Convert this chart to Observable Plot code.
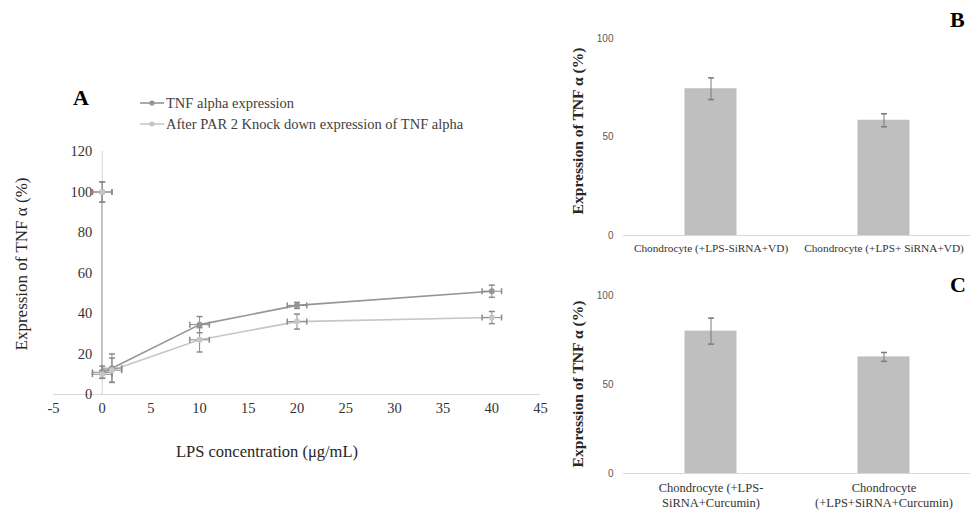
<!DOCTYPE html>
<html>
<head>
<meta charset="utf-8">
<script src="https://cdn.jsdelivr.net/npm/d3@7"></script>
<script src="https://cdn.jsdelivr.net/npm/@observablehq/plot@0.6"></script>
<style>
  html, body { margin: 0; padding: 0; background: #fff; }
  #root { position: relative; width: 979px; height: 515px; overflow: hidden; font-family: "Liberation Serif", serif; color: #262626; }
  .abs { position: absolute; white-space: nowrap; line-height: 1; }
  .rot { transform: translate(-50%, -50%) rotate(-90deg); }
  .letter { font-weight: bold; font-size: 22px; color: #000; }
  .leg { font-size: 14.5px; color: #404040; display: flex; align-items: center; }
  .leg svg { margin-right: 2px; }
</style>
</head>
<body>
<div id="root"></div>
<script>
// ---------- Panel A data ----------
const concentrations = [0, 0, 1, 10, 20, 40];
const concErr = [1, 1, 1, 1, 1, 1];
const tnfExpression = [100, 11, 13, 34.5, 44, 51];
const tnfExpressionErr = [5, 3, 7, 4, 1.5, 3];
const knockdownExpression = [100, 10, 12, 27, 36, 38];
const knockdownExpressionErr = [5, 2, 6, 6, 3.7, 3];
const seriesNames = ["TNF alpha expression", "After PAR 2 Knock down expression of TNF alpha"];
const seriesColors = ["#959595", "#c6c6c6"];
const xTicksA = [-5, 0, 5, 10, 15, 20, 25, 30, 35, 40, 45];
const yTicksA = [0, 20, 40, 60, 80, 100, 120];

// ---------- Panel B data ----------
const categoriesB = ["Chondrocyte (+LPS-SiRNA+VD)", "Chondrocyte (+LPS+ SiRNA+VD)"];
const valuesB = [74.5, 58.5];
const errB = [5.5, 3.3];

// ---------- Panel C data ----------
const categoriesC = ["Chondrocyte (+LPS-\nSiRNA+Curcumin)", "Chondrocyte\n(+LPS+SiRNA+Curcumin)"];
const valuesC = [80, 65.5];
const errC = [7.3, 2.5];
const yTicksBC = [0, 50, 100];

const yLabel = "Expression of TNF \u03b1 (%)";

// custom cap symbols for error bars
const capH = { draw(ctx, size) { const w = Math.sqrt(size / Math.PI); ctx.moveTo(-w, 0); ctx.lineTo(w, 0); } };
const capV = { draw(ctx, size) { const w = Math.sqrt(size / Math.PI); ctx.moveTo(0, -w); ctx.lineTo(0, w); } };

const root = document.getElementById("root");
function place(node, left, top) {
  const d = document.createElement("div");
  d.style.position = "absolute"; d.style.left = left + "px"; d.style.top = top + "px";
  d.appendChild(node); root.appendChild(d); return d;
}
function text(str, cls, left, top, extra) {
  const d = document.createElement("div");
  d.className = "abs " + cls; d.textContent = str;
  d.style.left = left + "px"; d.style.top = top + "px";
  if (extra) Object.assign(d.style, extra);
  root.appendChild(d); return d;
}

// ---------- Build panel A table ----------
const rowsA = [];
[tnfExpression, knockdownExpression].forEach((vals, si) => {
  const errs = si === 0 ? tnfExpressionErr : knockdownExpressionErr;
  vals.forEach((v, i) => rowsA.push({ series: seriesNames[si], color: seriesColors[si], x: concentrations[i], y: v, ey: errs[i], ex: concErr[i] }));
});
const errColor = "#8a8a8a";

const plotA = Plot.plot({
  width: 560, height: 420,
  marginLeft: 53, marginRight: 20, marginTop: 151, marginBottom: 26,
  style: { fontFamily: "Liberation Serif, serif", fontSize: "14.5px", color: "#333", background: "transparent" },
  x: { domain: [-5, 45], axis: null },
  y: { domain: [0, 120], axis: null },
  marks: [
    Plot.axisX(xTicksA, { tickSize: 0, tickPadding: 8, tickFormat: d => String(d), fontSize: 14.5, fill: "#333", label: null }),
    Plot.ruleY([0], { stroke: "#d9d9d9", strokeWidth: 1.2 }),
    Plot.ruleX([0], { y1: 0, y2: 120, stroke: "#d9d9d9", strokeWidth: 1.2 }),
    Plot.text(yTicksA, { x: 0, y: d => d, text: d => String(d), dx: -10, textAnchor: "end", fill: "#333", fontSize: 14.5 }),
    Plot.line(rowsA, { x: "x", y: "y", z: "series", stroke: "color", strokeWidth: 1.6 }),
    Plot.link(rowsA, { x1: "x", x2: "x", y1: d => d.y - d.ey, y2: d => d.y + d.ey, stroke: errColor, strokeWidth: 1 }),
    Plot.link(rowsA, { x1: d => d.x - d.ex, x2: d => d.x + d.ex, y1: "y", y2: "y", stroke: errColor, strokeWidth: 1 }),
    Plot.dot(rowsA, { x: "x", y: d => d.y - d.ey, symbol: capH, r: 3, fill: "none", stroke: errColor }),
    Plot.dot(rowsA, { x: "x", y: d => d.y + d.ey, symbol: capH, r: 3, fill: "none", stroke: errColor }),
    Plot.dot(rowsA, { x: d => d.x - d.ex, y: "y", symbol: capV, r: 3, fill: "none", stroke: errColor }),
    Plot.dot(rowsA, { x: d => d.x + d.ex, y: "y", symbol: capV, r: 3, fill: "none", stroke: errColor }),
    Plot.dot(rowsA, { x: "x", y: "y", r: 3, fill: "color", stroke: "none" })
  ]
});
place(plotA, 0, 0);

// Panel A texts
text("A", "letter", 73, 87);
seriesNames.forEach((name, i) => {
  const row = document.createElement("div");
  row.className = "abs leg";
  row.style.left = "140px"; row.style.top = (96 + i * 21) + "px";
  row.innerHTML = `<svg width="24" height="10"><line x1="0" y1="5" x2="24" y2="5" stroke="${seriesColors[i]}" stroke-width="1.6"/><circle cx="12" cy="5" r="2.6" fill="${seriesColors[i]}"/></svg><span>${name}</span>`;
  root.appendChild(row);
});
text("LPS concentration (\u03bcg/mL)", "", 267, 452, { fontSize: "16.5px", transform: "translate(-50%,-50%)", color: "#262626" });
text(yLabel, "rot", 21, 264, { fontSize: "17px", color: "#262626" });

// ---------- Bar panel builder ----------
function barPanel(cats, vals, errs, opts) {
  const rows = cats.map((c, i) => ({ cat: c, v: vals[i], e: errs[i] }));
  return Plot.plot({
    width: 419, height: opts.height,
    marginLeft: 63, marginRight: 9, marginTop: opts.marginTop, marginBottom: opts.marginBottom,
    style: { fontFamily: "Liberation Serif, serif", fontSize: opts.catFont + "px", color: "#333", background: "transparent" },
    x: { domain: cats, padding: 0, label: null, axis: null },
    y: { domain: [0, 100], axis: null },
    marks: [
      Plot.axisX({ tickSize: 0, tickPadding: opts.tickPadding, lineHeight: 1.2, fontSize: opts.catFont, fill: "#333" }),
      Plot.axisY(yTicksBC, { tickSize: 0, tickPadding: 10, fontFamily: "Liberation Sans, sans-serif", fontSize: 10, fill: "#595959", label: null }),
      Plot.barY(rows, { x: "cat", y: "v", fill: "#bfbfbf", insetLeft: 60.5, insetRight: 60.5 }),
      Plot.ruleY([0], { stroke: "#d9d9d9", strokeWidth: 1.2 }),
      Plot.ruleX(rows, { x: "cat", y1: d => d.v - d.e, y2: d => d.v + d.e, stroke: "#7a7a7a", strokeWidth: 1 }),
      Plot.dot(rows, { x: "cat", y: d => d.v - d.e, symbol: capH, r: 3, fill: "none", stroke: "#7a7a7a" }),
      Plot.dot(rows, { x: "cat", y: d => d.v + d.e, symbol: capH, r: 3, fill: "none", stroke: "#7a7a7a" })
    ]
  });
}

const plotB = barPanel(categoriesB, valuesB, errB, { height: 260, marginTop: 38, marginBottom: 25, tickPadding: 7, catFont: 11.3 });
place(plotB, 560, 0);
text("B", "letter", 950, 9);
text(yLabel, "rot", 578, 131, { fontSize: "15.6px", fontWeight: "bold", color: "#262626" });

const plotC = barPanel(categoriesC, valuesC, errC, { height: 255, marginTop: 35, marginBottom: 42, tickPadding: 8, catFont: 12.5 });
place(plotC, 560, 260);
text("C", "letter", 950, 274);
text(yLabel, "rot", 578, 384, { fontSize: "15.6px", fontWeight: "bold", color: "#262626" });
</script>
</body>
</html>
